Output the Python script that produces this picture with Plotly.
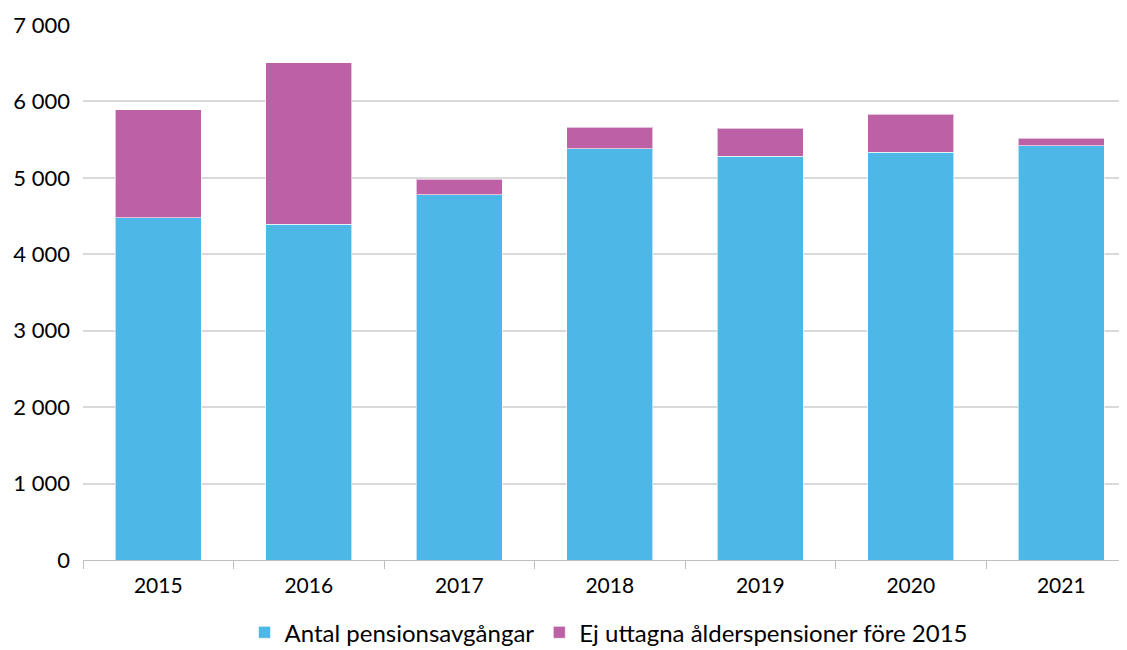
import plotly.graph_objects as go

years = ["2015", "2016", "2017", "2018", "2019", "2020", "2021"]
antal = [4475, 4396, 4776, 5378, 5286, 5338, 5417]
ej_uttagna = [1413, 2107, 209, 287, 366, 497, 104]
y_ticks = [0, 1000, 2000, 3000, 4000, 5000, 6000, 7000]

blue = "#4DB7E8"
magenta = "#BC61A5"
font = "Lato"

fig = go.Figure()
fig.add_trace(go.Bar(x=years, y=antal, name="Antal pensionsavgångar",
                     marker=dict(color=blue, line=dict(color="rgba(255,255,255,0.6)", width=1)),
                     width=0.57))
fig.add_trace(go.Bar(x=years, y=ej_uttagna, name="Ej uttagna ålderspensioner före 2015",
                     marker=dict(color=magenta, line=dict(color="rgba(255,255,255,0.6)", width=1)),
                     width=0.57))

fig.update_layout(
    barmode="stack",
    width=1127, height=650,
    margin=dict(l=75, r=0, t=17, b=98),
    plot_bgcolor="white", paper_bgcolor="white",
    separators=", ",
    font=dict(family=font, size=21, color="#000000"),
    showlegend=True,
    legend=dict(orientation="h", x=0.5, xanchor="center", y=-0.178, yanchor="bottom",
                font=dict(size=24), itemwidth=30, tracegroupgap=0,
                traceorder="normal"),
    xaxis=dict(range=[-0.5, 6.49], showline=True, linecolor="#BFBFBF", linewidth=1,
               ticks="outside", ticklen=8, tickcolor="#BFBFBF", tickson="boundaries",
               showgrid=False, tickfont=dict(size=21), ticklabelstandoff=7,
               fixedrange=True),
    yaxis=dict(range=[0, 7000], tickvals=y_ticks, tickformat=",d",
               showgrid=True, gridcolor="#D9D9D9", gridwidth=1.5,
               zeroline=False, showline=False, ticks="", ticklabelstandoff=12,
               tickfont=dict(size=22)),
)

fig.write_html("out.html")
